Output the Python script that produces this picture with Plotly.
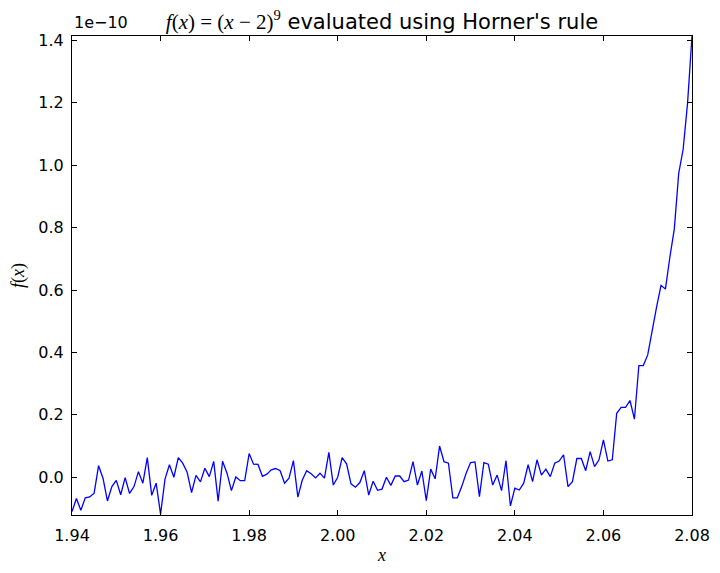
import numpy as np
import plotly.graph_objects as go

# f(x) values, in units of 1e-10, for x = 1.940, 1.941, ..., 2.080
f_vals = [
    -0.110, -0.068, -0.106, -0.066, -0.063, -0.051, 0.037, -0.003, -0.076, -0.030,
    -0.010, -0.056, -0.001, -0.052, -0.030, 0.018, -0.019, 0.063, -0.058, -0.019,
    -0.118, -0.006, 0.040, 0.000, 0.063, 0.045, 0.016, -0.049, 0.006, -0.015,
    0.029, 0.002, 0.051, -0.077, 0.051, 0.013, -0.043, 0.001, -0.011, -0.011,
    0.076, 0.042, 0.041, 0.003, 0.010, 0.024, 0.028, 0.021, -0.019, -0.003,
    0.053, -0.064, -0.009, 0.021, 0.011, -0.002, 0.013, -0.003, 0.080, -0.025,
    0.000, 0.063, 0.043, -0.021, -0.032, -0.017, 0.021, -0.057, -0.013, -0.042,
    -0.038, 0.000, -0.026, 0.004, 0.004, -0.014, -0.009, 0.050, -0.025, 0.020,
    -0.075, 0.026, -0.005, 0.100, 0.050, 0.045, -0.066, -0.066, -0.030, 0.013,
    0.047, 0.049, -0.062, 0.047, 0.042, -0.025, 0.007, -0.043, 0.053, -0.092,
    -0.035, -0.041, -0.019, 0.040, -0.014, 0.056, 0.007, 0.026, 0.002, 0.045,
    0.052, 0.072, -0.030, -0.014, 0.060, 0.060, 0.021, 0.082, 0.034, 0.056,
    0.120, 0.052, 0.056, 0.205, 0.224, 0.224, 0.246, 0.186, 0.358, 0.358,
    0.392, 0.475, 0.545, 0.615, 0.603, 0.705, 0.795, 0.974, 1.051, 1.199,
    1.414,
]
x_vals = np.linspace(1.94, 2.08, len(f_vals))

x_ticks = [1.94, 1.96, 1.98, 2.00, 2.02, 2.04, 2.06, 2.08]
y_ticks = [0.0, 0.2, 0.4, 0.6, 0.8, 1.0, 1.2, 1.4]

MATH = "Liberation Serif"

fig = go.Figure()
fig.add_trace(go.Scatter(
    x=x_vals, y=f_vals, mode="lines",
    line=dict(color="#0000ff", width=1.3),
    hoverinfo="x+y",
))

axis_common = dict(
    showline=True, linecolor="black", linewidth=1.2, mirror="ticks",
    ticks="inside", ticklen=5, tickcolor="black", tickwidth=1,
    showgrid=False, zeroline=False, automargin=False,
    tickfont=dict(family="DejaVu Sans", size=16, color="black"),
)

fig.update_layout(
    width=720, height=573,
    margin=dict(l=72, r=28, t=36, b=58),
    paper_bgcolor="white", plot_bgcolor="white",
    showlegend=False,
    title=dict(
        text=f'<span style="font-family:{MATH};font-size:21px"><i>f</i>(<i>x</i>) = (<i>x</i> − 2)<sup>9</sup></span>'
             " evaluated using Horner's rule",
        xref="paper", x=0.5, xanchor="center", y=0.962, yanchor="middle",
        font=dict(family="DejaVu Sans", size=21, color="black"),
    ),
    xaxis=dict(
        range=[1.94, 2.08], tickvals=x_ticks, tickformat=".2f",
        title=dict(text="<i>x</i>", font=dict(family=MATH, size=18, color="black"), standoff=4),
        ticklabelstandoff=6,
        **axis_common,
    ),
    yaxis=dict(
        range=[-0.121, 1.414], tickvals=y_ticks, tickformat=".1f",
        title=dict(text="<i>f</i>(<i>x</i>)", font=dict(family=MATH, size=18, color="black"), standoff=8),
        ticklabelstandoff=4,
        **axis_common,
    ),
    annotations=[dict(
        text="1e−10", xref="paper", yref="paper", x=0.0, y=1.0,
        xanchor="left", yanchor="bottom", yshift=2, showarrow=False,
        font=dict(family="DejaVu Sans", size=16, color="black"),
    )],
)

fig.write_html("out.html", config={"displayModeBar": False},
               post_script="document.body.style.margin='0px';")
